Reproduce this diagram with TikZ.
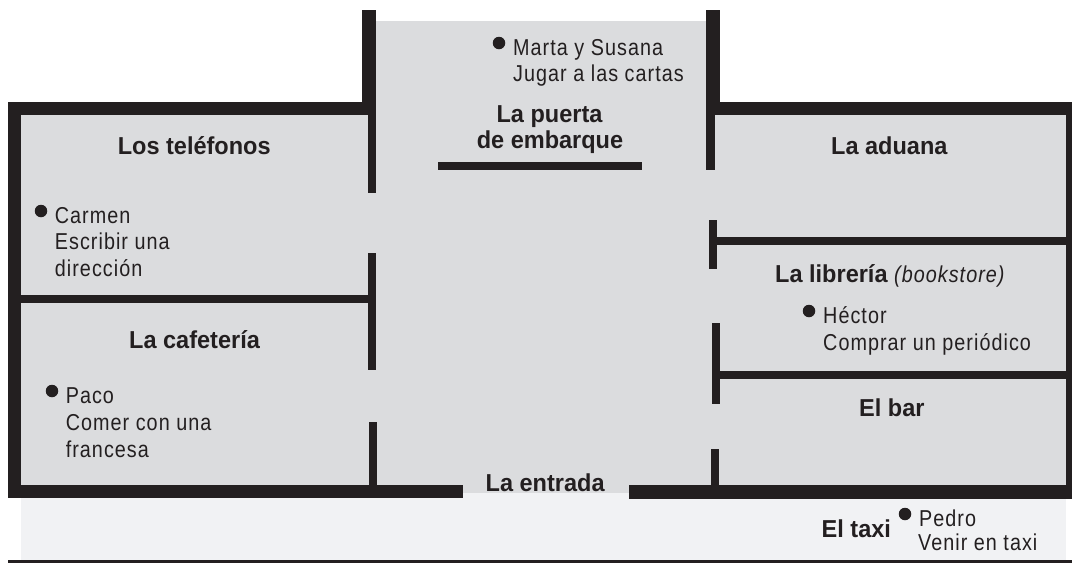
\documentclass[tikz,border=0pt]{standalone}
\usepackage{fontspec}
\setmainfont{Liberation Sans}
\newfontfamily\lightfont[FakeStretch=0.86,LetterSpace=4.5]{Liberation Sans}
\newfontfamily\headfont[FakeStretch=0.96]{Liberation Sans}
\definecolor{wall}{HTML}{231F20}
\definecolor{floorgrey}{HTML}{DBDCDE}
\definecolor{street}{HTML}{F1F2F4}
\tikzset{
  wallpart/.style={fill=wall,draw=none},
  person/.style={anchor=base west,inner sep=0pt,text=wall,font=\fontsize{23}{26}\lightfont},
  place/.style={anchor=base west,inner sep=0pt,text=wall,font=\fontsize{24.5}{27}\headfont\bfseries},
  placec/.style={anchor=base,inner sep=0pt,text=wall,font=\fontsize{24.5}{27}\headfont\bfseries},
  dot/.style={circle,fill=wall,draw=none,minimum size=12.5pt,inner sep=0pt}
}
\begin{document}
\begin{tikzpicture}[x=1pt,y=-1pt]
\useasboundingbox (0,0) rectangle (1072,563);
% floors
\fill[street] (21.2,493) rectangle (1066,560);
\fill[floorgrey] (376,20.5) rectangle (706.3,115);
\fill[floorgrey] (21.2,115) rectangle (1066,485);
\fill[floorgrey] (463,485) rectangle (629,493);
% outer walls
\fill[wallpart] (7.5,102) rectangle (376,115);
\fill[wallpart] (7.5,102) rectangle (21.2,498);
\fill[wallpart] (7.5,484.5) rectangle (463,498);
\fill[wallpart] (362.4,10) rectangle (376,115);
\fill[wallpart] (706.3,10) rectangle (719.6,115);
\fill[wallpart] (706.3,102) rectangle (1072,115);
\fill[wallpart] (1066,102) rectangle (1072,498);
\fill[wallpart] (629,485) rectangle (1072,498.5);
% left inner walls
\fill[wallpart] (368.2,115) rectangle (376,193);
\fill[wallpart] (368.2,253) rectangle (376,370);
\fill[wallpart] (369.2,422) rectangle (377,485);
\fill[wallpart] (21.2,295) rectangle (368.2,303);
% gate wall
\fill[wallpart] (438,162) rectangle (642,170);
% right inner walls
\fill[wallpart] (706.3,115) rectangle (714.5,170);
\fill[wallpart] (709.3,220) rectangle (717.2,269);
\fill[wallpart] (717.2,237) rectangle (1066,245);
\fill[wallpart] (712,323) rectangle (720,404);
\fill[wallpart] (720,370.5) rectangle (1066,379);
\fill[wallpart] (710.7,449) rectangle (718.6,485);
% base line
\fill[wallpart] (7.5,560) rectangle (1072,563);
% places
\node[place] (telefonos) at (117.6,154) {Los teléfonos};
\node[placec] (puerta) at (549.5,122) {La puerta};
\node[placec] (embarque) at (550,148) {de embarque};
\node[place] (aduana) at (831,154) {La aduana};
\node[place] (libreria) at (775,282) {La librería \fontsize{23}{24}\lightfont\mdseries\itshape (bookstore)};
\node[place] (cafeteria) at (129,348) {La cafetería};
\node[place] (entrada) at (485.5,491) {La entrada};
\node[place] (bar) at (859,416) {El bar};
\node[place] (taxi) at (821.5,537) {El taxi};
% people
\node[dot] (d1) at (499,43) {};
\node[person] (marta) at (513,55) {Marta y Susana};
\node[person] (jugar) at (513,81) {Jugar a las cartas};
\node[dot] (d2) at (41,211) {};
\node[person] (carmen) at (54.7,223) {Carmen};
\node[person] (escribir) at (54.7,249) {Escribir una};
\node[person] (direccion) at (54.7,276) {dirección};
\node[dot] (d3) at (52,391) {};
\node[person] (paco) at (65.6,403) {Paco};
\node[person] (comer) at (65.6,430) {Comer con una};
\node[person] (francesa) at (65.6,457) {francesa};
\node[dot] (d4) at (809,311) {};
\node[person] (hector) at (823,323) {Héctor};
\node[person] (comprar) at (823,350) {Comprar un periódico};
\node[dot] (d5) at (905,514) {};
\node[person] (pedro) at (919,526) {Pedro};
\node[person] (venir) at (918,550) {Venir en taxi};
\end{tikzpicture}
\end{document}
